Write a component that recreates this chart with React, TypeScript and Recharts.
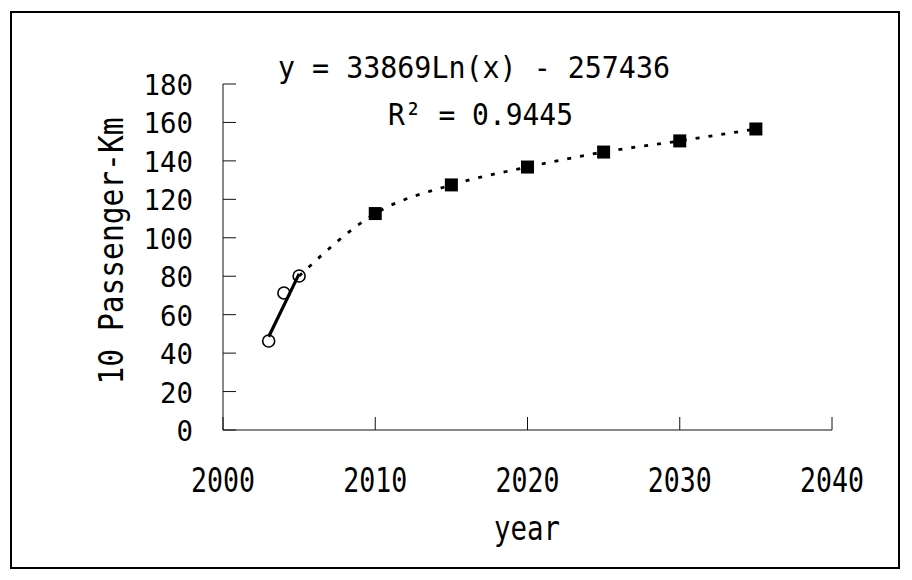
import React from "react";
import { ComposedChart, Line, Scatter, XAxis, YAxis } from "recharts";

// observed values (open circles)
const observedYears = [2003, 2004, 2005];
const observedValues = [46.3, 71.3, 80.1];

// projected values (filled squares)
const forecastYears = [2010, 2015, 2020, 2025, 2030, 2035];
const forecastValues = [112.6, 127.5, 136.8, 144.6, 150.4, 156.6];

const trendYears = [2003, 2005];
const trendValues = [48.5, 81.2];

const xTicks = [2000, 2010, 2020, 2030, 2040];
const yTicks = [0, 20, 40, 60, 80, 100, 120, 140, 160, 180];

const equationText = "y = 33869Ln(x) - 257436";
const rSquaredText = "R² = 0.9445";

// half-width gothic look: monospace glyphs squeezed to the cell width
const FONT = "'DejaVu Sans Mono', 'Liberation Mono', monospace";

const observed = observedYears.map((year, i) => ({ year, value: observedValues[i] }));
const forecast = forecastYears.map((year, i) => ({ year, value: forecastValues[i] }));
// dotted line continues from the last observed point through the projections
const projection = [observed[observed.length - 1], ...forecast];
const trend = trendYears.map((year, i) => ({ year, value: trendValues[i] }));

function XTick({ x, y, payload }: any) {
  const label = String(payload.value);
  return (
    <g>
      <line x1={x} x2={x} y1={y} y2={y - 13} stroke="#111" strokeWidth={1} />
      <text
        x={x}
        y={y + 62}
        textAnchor="middle"
        fontSize={34}
        fontFamily={FONT}
        fill="#000"
        textLength={label.length * 16}
        lengthAdjust="spacingAndGlyphs"
      >
        {label}
      </text>
    </g>
  );
}

function YTick({ x, y, payload }: any) {
  const label = String(payload.value);
  return (
    <g>
      <line x1={x} x2={x + 13} y1={y} y2={y} stroke="#111" strokeWidth={1} />
      <text
        x={x - 30}
        y={y + 11}
        textAnchor="end"
        fontSize={29}
        fontFamily={FONT}
        fill="#000"
        textLength={label.length * 16.5}
        lengthAdjust="spacingAndGlyphs"
      >
        {label}
      </text>
    </g>
  );
}

const OpenCircle = ({ cx, cy }: any) => (
  <circle cx={cx} cy={cy} r={6} fill="none" stroke="#000" strokeWidth={1.6} />
);

const FilledSquare = ({ cx, cy }: any) => (
  <rect x={cx - 6.5} y={cy - 6.5} width={13} height={13} fill="#000" />
);

export default function App() {
  return (
    <div style={{ position: "absolute", left: 0, top: 0, width: 912, height: 580, background: "#fff" }}>
      <ComposedChart
        width={912}
        height={580}
        margin={{ top: 84, right: 80, bottom: 0, left: 0 }}
      >
        <XAxis
          dataKey="year"
          type="number"
          domain={[2000, 2040]}
          ticks={xTicks}
          interval={0}
          height={150}
          tickSize={0}
          tickMargin={0}
          tickLine={false}
          axisLine={{ stroke: "#111", strokeWidth: 1 }}
          tick={<XTick />}
          label={{
            content: () => (
              <text
                x={527}
                y={540}
                textAnchor="middle"
                fontSize={34}
                fontFamily={FONT}
                textLength={66}
                lengthAdjust="spacingAndGlyphs"
              >
                year
              </text>
            ),
          }}
        />
        <YAxis
          dataKey="value"
          type="number"
          domain={[0, 180]}
          ticks={yTicks}
          interval={0}
          width={223}
          tickSize={0}
          tickMargin={0}
          tickLine={false}
          axisLine={{ stroke: "#111", strokeWidth: 1 }}
          tick={<YTick />}
          label={{
            content: () => (
              <text
                x={0}
                y={0}
                transform="translate(123 251) rotate(-90)"
                textAnchor="middle"
                fontSize={34}
                fontFamily={FONT}
                textLength={267}
                lengthAdjust="spacingAndGlyphs"
              >
                10 Passenger-Km
              </text>
            ),
          }}
        />
        <Line
          data={projection}
          dataKey="value"
          type="monotone"
          stroke="#000"
          strokeWidth={2.8}
          strokeDasharray="4 9"
          dot={false}
          activeDot={false}
          isAnimationActive={false}
        />
        <Scatter data={observed} dataKey="value" shape={<OpenCircle />} isAnimationActive={false} />
        <Line
          data={trend}
          dataKey="value"
          type="linear"
          stroke="#000"
          strokeWidth={3.2}
          dot={false}
          activeDot={false}
          isAnimationActive={false}
        />
        <Scatter data={forecast} dataKey="value" shape={<FilledSquare />} isAnimationActive={false} />
      </ComposedChart>
      <svg
        width={912}
        height={580}
        style={{ position: "absolute", left: 0, top: 0, pointerEvents: "none" }}
      >
        <rect x={11} y={12} width={888} height={556} fill="none" stroke="#000" strokeWidth={2} />
        <text
          x={278}
          y={78}
          fontSize={31}
          fontFamily={FONT}
          textLength={392}
          lengthAdjust="spacingAndGlyphs"
          style={{ whiteSpace: "pre" }}
        >
          {equationText}
        </text>
        <text
          x={388}
          y={125}
          fontSize={31}
          fontFamily={FONT}
          textLength={185}
          lengthAdjust="spacingAndGlyphs"
          style={{ whiteSpace: "pre" }}
        >
          {rSquaredText}
        </text>
      </svg>
    </div>
  );
}
